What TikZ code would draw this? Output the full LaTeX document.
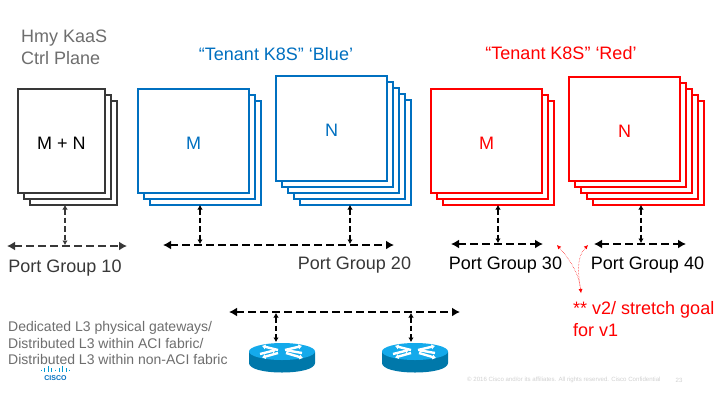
\documentclass[tikz,border=0pt]{standalone}
\usepackage{fontspec}
\setmainfont{Liberation Sans}
\usetikzlibrary{arrows.meta,calc}
\definecolor{cblue}{RGB}{0,112,192}
\definecolor{cred}{RGB}{255,0,0}
\definecolor{cdark}{RGB}{56,56,56}
\definecolor{cgrey}{RGB}{110,110,110}
\definecolor{rtop}{RGB}{20,170,235}
\definecolor{rside}{RGB}{0,120,170}
\tikzset{
 x=1pt,y=-1pt,
 card/.style={draw=#1,fill=white,line width=2pt,inner sep=0pt,outer sep=0pt,anchor=north west},
 lbl/.style={inner sep=0pt,font=\fontsize{18}{21}\selectfont},
 bus/.style={draw=#1,line width=2.6pt,dash pattern=on 8pt off 4pt,{Latex[length=8pt,width=9pt]}-{Latex[length=8pt,width=9pt]}},
 bus/.default=black,
 drop/.style={draw=#1,line width=2pt,dash pattern=on 5.5pt off 3pt,{Latex[length=4.5pt,width=5.5pt]}-{Latex[length=4.5pt,width=5.5pt]}},
 drop/.default=black,
 note/.style={draw=cred,line width=0.5pt,densely dotted,-{Latex[length=4pt,width=4pt]}},
 rarrow/.style={draw=white,line width=2.4pt,-{Latex[length=3.5pt,width=5.5pt]}},
}
\begin{document}
\begin{tikzpicture}
\useasboundingbox (0,0) rectangle (720,405);
\fill[white] (0,0) rectangle (720,405);

% stacks
\foreach \k in {2,1,0}{\node[card=cdark,minimum width=87pt,minimum height=104pt] (a\k) at (18+6*\k,89+6*\k) {};}
\foreach \k in {2,1,0}{\node[card=cblue,minimum width=111pt,minimum height=104pt] (b\k) at (138+6*\k,89+6*\k) {};}
\foreach \k in {4,3,2,1,0}{\node[card=cblue,minimum width=111pt,minimum height=105pt] (c\k) at (276+6*\k,76+6*\k) {};}
\foreach \k in {2,1,0}{\node[card=cred,minimum width=111pt,minimum height=104pt] (d\k) at (431+6*\k,89+6*\k) {};}
\foreach \k in {4,3,2,1,0}{\node[card=cred,minimum width=111pt,minimum height=104pt] (e\k) at (569+6*\k,77+6*\k) {};}
\node[lbl,text=black] (tmn) at ($(a0.center)+(0,2)$) {M + N};
\node[lbl,text=cblue] (tbm) at ($(b0.center)+(0,2)$) {M};
\node[lbl,text=cblue] (tbn) at ($(c0.center)+(0,2)$) {N};
\node[lbl,text=cred] (trm) at ($(d0.center)+(0,2)$) {M};
\node[lbl,text=cred] (trn) at ($(e0.center)+(0,2)$) {N};

% titles
\node[lbl,text=cgrey,anchor=north west,align=left,font=\fontsize{18}{22}\selectfont] (ttl) at (21,29.5) {Hmy KaaS\\Ctrl Plane};
\node[lbl,text=cblue] (tblue) at (276,54.5) {“Tenant K8S” ‘Blue’};
\node[lbl,text=cred] (tred) at (561,53.5) {“Tenant K8S” ‘Red’};

% bus end points
\coordinate (p10l) at (7,246); \coordinate (p10r) at (127,246);
\coordinate (p20l) at (163,245); \coordinate (p20r) at (394,245);
\coordinate (p30l) at (451,244); \coordinate (p30r) at (543,244);
\coordinate (p40l) at (594,244); \coordinate (p40r) at (686,244);
\coordinate (gl) at (229,312); \coordinate (gr) at (460,312);
\coordinate (d10) at (65,245); \coordinate (d20a) at (200,244); \coordinate (d20b) at (350,244);
\coordinate (d30) at (498,243); \coordinate (d40) at (641,243);
\coordinate (ga) at (276,313); \coordinate (gb) at (411,313);
\coordinate (gat) at (276,342); \coordinate (gbt) at (411,342);

\draw[bus=cdark] (p10l) -- (p10r);
\draw[bus] (p20l) -- (p20r);
\draw[bus] (p30l) -- (p30r);
\draw[bus] (p40l) -- (p40r);
\draw[bus] (gl) -- (gr);
\draw[drop=cdark] (a2.south -| d10) -- (d10);
\draw[drop] (b2.south -| d20a) -- (d20a);
\draw[drop] (c4.south -| d20b) -- (d20b);
\draw[drop] (d2.south -| d30) -- (d30);
\draw[drop] (e4.south -| d40) -- (d40);

% port group labels
\node[lbl,text=cdark] (pg10) at (65,268.5) {Port Group 10};
\node[lbl,text=cdark] (pg20) at (354.5,265.5) {Port Group 20};
\node[lbl,text=black] (pg30) at (505.5,265.5) {Port Group 30};
\node[lbl,text=black] (pg40) at (647.5,265.5) {Port Group 40};

% note
\node[lbl,text=cred,anchor=north west,align=left,font=\fontsize{18}{22}\selectfont] (nt) at (573,301) {** v2/ stretch goal\\for v1};
\coordinate (nf) at (581,293); \coordinate (n1) at (557,245); \coordinate (n2) at (588,245);
\draw[note,{Latex[length=4pt,width=4pt]}-{Latex[length=4pt,width=4pt]}] (n1) .. controls (572,262) and (579,275) .. (nf);
\draw[note] (nf) .. controls (578,272) and (576,258) .. (n2);

% routers
\foreach \n/\cx in {ra/282,rb/415}{
 \begin{scope}[shift={(\cx,0)}]
  \fill[rside] (-33,352) -- (-33,363) .. controls (-33,369) and (-18,372.5) .. (0,372.5) .. controls (18,372.5) and (33,369) .. (33,363) -- (33,352) -- cycle;
  \fill[rtop] (0,351.5) ellipse[x radius=33pt,y radius=8.5pt];
  \draw[rarrow] (-4,350) -- (-20,346);
  \draw[rarrow] (-22,354) -- (-6,350);
  \draw[rarrow] (-4,353) -- (-20,357.5);
  \draw[rarrow] (3,350) -- (20,346);
  \draw[rarrow] (20,353) -- (3,350);
  \draw[rarrow] (4,353) -- (21,358);
 \end{scope}
}
\draw[drop] (ga) -- (gat);
\draw[drop] (gb) -- (gbt);

% left text
\node[lbl,text=cgrey,anchor=north west,align=left,font=\fontsize{14}{16.4}\selectfont] (gw) at (8,321.5) {Dedicated L3 physical gateways/\\Distributed L3 within ACI fabric/\\Distributed L3 within non-ACI fabric};

% logo
\foreach \dx/\h in {0/1.5,3.6/3,7.2/5,10.8/3,14.4/1.5,18/3,21.6/5,25.2/3,28.8/1.5}{
 \draw[cblue!70!cyan,line width=0.9pt] (41+\dx,371-\h) -- (41+\dx,371+\h*0.2);
}
\node[lbl,text=cblue,font=\fontsize{7}{8}\bfseries\selectfont] (cisco) at (55.5,378.5) {CISCO};

% footer
\node[lbl,text=black!18,anchor=west,font=\fontsize{6.1}{7}\selectfont] (ft) at (467,380) {© 2016  Cisco and/or its affiliates. All rights reserved.   Cisco Confidential};
\node[lbl,text=black!18,font=\fontsize{6.1}{7}\selectfont] (pgn) at (679,380) {23};
\end{tikzpicture}
\end{document}
